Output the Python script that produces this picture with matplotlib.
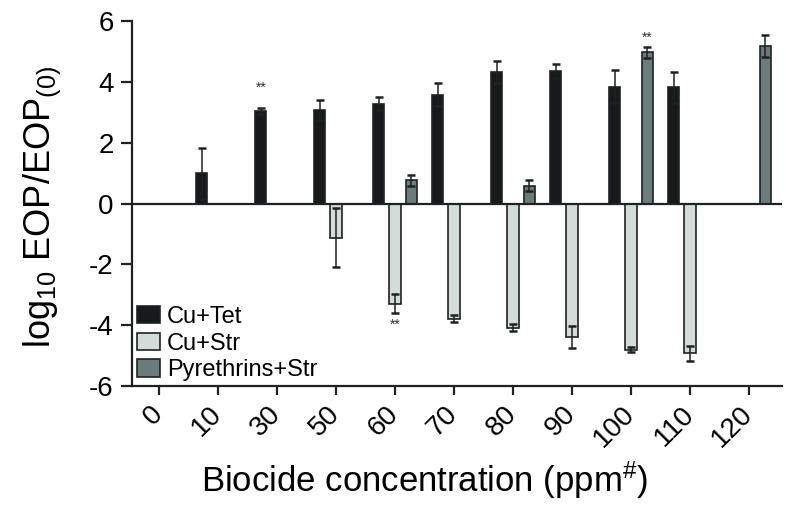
import matplotlib
matplotlib.use("Agg")
import matplotlib.pyplot as plt
import matplotlib.transforms as mtransforms
import numpy as np

plt.rcParams["font.family"] = ["Liberation Sans", "DejaVu Sans"]
plt.rcParams["mathtext.fontset"] = "custom"
plt.rcParams["mathtext.rm"] = "Liberation Sans"
plt.rcParams["mathtext.it"] = "Liberation Sans"
plt.rcParams["axes.unicode_minus"] = False

# ---------------------------------------------------------------------------
# Data (NaN = no bar)
# ---------------------------------------------------------------------------
concentrations = ["0", "10", "30", "50", "60", "70", "80", "90", "100", "110", "120"]

cu_tet = [np.nan, 0.99, 3.04, 3.09, 3.28, 3.58, 4.33, 4.35, 3.84, 3.82, np.nan]
cu_tet_err = [0, 0.83, 0.11, 0.33, 0.21, 0.37, 0.35, 0.23, 0.54, 0.51, 0]

cu_str = [np.nan, np.nan, np.nan, -1.12, -3.29, -3.78, -4.08, -4.39, -4.80, -4.93, np.nan]
cu_str_err = [0, 0, 0, 0.96, 0.31, 0.13, 0.11, 0.35, 0.08, 0.25, 0]

pyr_str = [np.nan, np.nan, np.nan, np.nan, 0.76, np.nan, 0.59, np.nan, 4.97, np.nan, 5.18]
pyr_str_err = [0, 0, 0, 0, 0.18, 0, 0.17, 0, 0.17, 0, 0.35]

series = [
    ("Cu+Tet", cu_tet, cu_tet_err, "#17191b"),
    ("Cu+Str", cu_str, cu_str_err, "#d3dcd9"),
    ("Pyrethrins+Str", pyr_str, pyr_str_err, "#6c7c7a"),
]

# significance marks: (category index, series index, y position)
stars = [(2, 0, 3.8), (8, 2, 5.45), (4, 1, -4.0)]

# ---------------------------------------------------------------------------
fig = plt.figure(figsize=(7.94, 5.14), dpi=100)
ax = fig.add_axes([0.166, 0.249, 0.819, 0.710])

x = np.arange(len(concentrations))
offset = 0.275
width = 0.19
edge = "#1e2222"

for i, (label, vals, errs, color) in enumerate(series):
    pos = x + (i - 1) * offset
    ax.bar(pos, vals, width, color=color, edgecolor=edge, linewidth=1.2,
           label=label, zorder=2)
    ax.errorbar(pos, vals, yerr=errs, fmt="none", ecolor=edge, elinewidth=1.1,
                capsize=3.2, capthick=1.8, zorder=3)

for ci, si, y in stars:
    ax.text(x[ci] + (si - 1) * offset, y, "**", ha="center", va="center",
            fontsize=10, color="#333333")

ax.axhline(0, color="#1e2222", lw=1.6, zorder=4)

ax.set_xlim(-0.46, 10.56)
ax.set_ylim(-6, 6)
ax.set_yticks(np.arange(-6, 7, 2))
ax.set_xticks(x)
ax.set_xticklabels(concentrations, rotation=45, ha="right", va="center",
                   rotation_mode="anchor")
shift = mtransforms.ScaledTranslation(1 / 72, 0, fig.dpi_scale_trans)
for lbl in ax.get_xticklabels():
    lbl.set_transform(lbl.get_transform() + shift)

ax.tick_params(axis="both", direction="out", width=1.6,
               labelsize=20, color="#1e2222")
ax.tick_params(axis="x", length=6.5, pad=11)
ax.tick_params(axis="y", length=8, pad=5)

for side in ("top", "right"):
    ax.spines[side].set_visible(False)
for side in ("left", "bottom"):
    ax.spines[side].set_linewidth(1.6)
    ax.spines[side].set_color("#1e2222")

ax.set_xlabel("Biocide concentration (ppm$^{\\#}$)", fontsize=25)
ax.xaxis.set_label_coords(0.451, -0.2)
ax.set_ylabel("log$_{10}$ EOP/EOP$_{(0)}$", fontsize=26)
ax.yaxis.set_label_coords(-0.106, 0.49)

ax.legend(loc="lower left", bbox_to_anchor=(0.0, 0.0), frameon=False,
          fontsize=17, handlelength=1.0, handleheight=0.75, handletextpad=0.3,
          labelspacing=0.2, borderaxespad=0.1, borderpad=0.1)

fig.savefig("out.png", dpi=100)
